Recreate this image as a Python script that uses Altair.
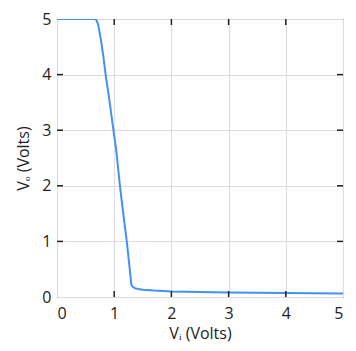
import altair as alt
import pandas as pd

# Curve values
vi = [0, 0.66, 0.69, 0.72, 0.77, 0.81, 0.85, 0.91, 0.98, 1.04, 1.10, 1.16, 1.22,
      1.26, 1.30, 1.33, 1.36, 1.42, 1.5, 1.7, 2.0, 2.5, 3.0, 3.5, 4.0, 4.5, 5.0]
vo = [5, 5, 4.98, 4.90, 4.61, 4.33, 4.0, 3.58, 3.05, 2.6, 2.0, 1.49, 1.0,
      0.62, 0.22, 0.18, 0.16, 0.145, 0.13, 0.115, 0.10, 0.09, 0.08, 0.075, 0.07, 0.067, 0.065]

tick_values = [0, 1, 2, 3, 4, 5]
inner_ticks = [1, 2, 3, 4]

W, H = 286, 278
TL = 6
FONT = "Open Sans"
DARK = "#222222"

curve = pd.DataFrame({"vi": vi, "vo": vo})
ticks = pd.DataFrame({"t": inner_ticks})

xscale = alt.Scale(domain=[0, 5], nice=False)
yscale = alt.Scale(domain=[0, 5], nice=False)

line = alt.Chart(curve).mark_line(color="#4391f5", strokeWidth=2, clip=True).encode(
    x=alt.X("vi:Q", scale=xscale,
            axis=alt.Axis(values=tick_values, title="Vᵢ (Volts)", format="d")),
    y=alt.Y("vo:Q", scale=yscale,
            axis=alt.Axis(values=tick_values, title="Vₒ (Volts)", format="d")),
)

tick_base = alt.Chart(ticks).mark_rule(color=DARK, strokeWidth=1.5)
bottom = tick_base.encode(x=alt.X("t:Q", scale=xscale), y=alt.value(H), y2=alt.value(H - TL))
top = tick_base.encode(x=alt.X("t:Q", scale=xscale), y=alt.value(0), y2=alt.value(TL))
left = tick_base.encode(y=alt.Y("t:Q", scale=yscale), x=alt.value(0), x2=alt.value(TL))
right = tick_base.encode(y=alt.Y("t:Q", scale=yscale), x=alt.value(W - TL), x2=alt.value(W))

chart = alt.layer(line, bottom, top, left, right).properties(
    width=W, height=H,
    autosize=alt.AutoSizeParams(type="none"),
    padding={"left": 49, "top": 11, "right": 5, "bottom": 46},
).configure_view(
    stroke=DARK, strokeWidth=1
).configure_axis(
    grid=True, gridColor="#dcdcdc", gridWidth=1,
    domain=False, ticks=False, tickSize=0,
    labelFont=FONT, labelFontSize=16, labelColor=DARK,
    titleFont=FONT, titleFontSize=16, titleColor=DARK, titleFontWeight="normal",
).configure_axisX(
    labelPadding=8, titlePadding=4,
).configure_axisY(
    labelPadding=6, titlePadding=10,
)

chart.save("out.html", embed_options={"renderer": "svg", "actions": False})
